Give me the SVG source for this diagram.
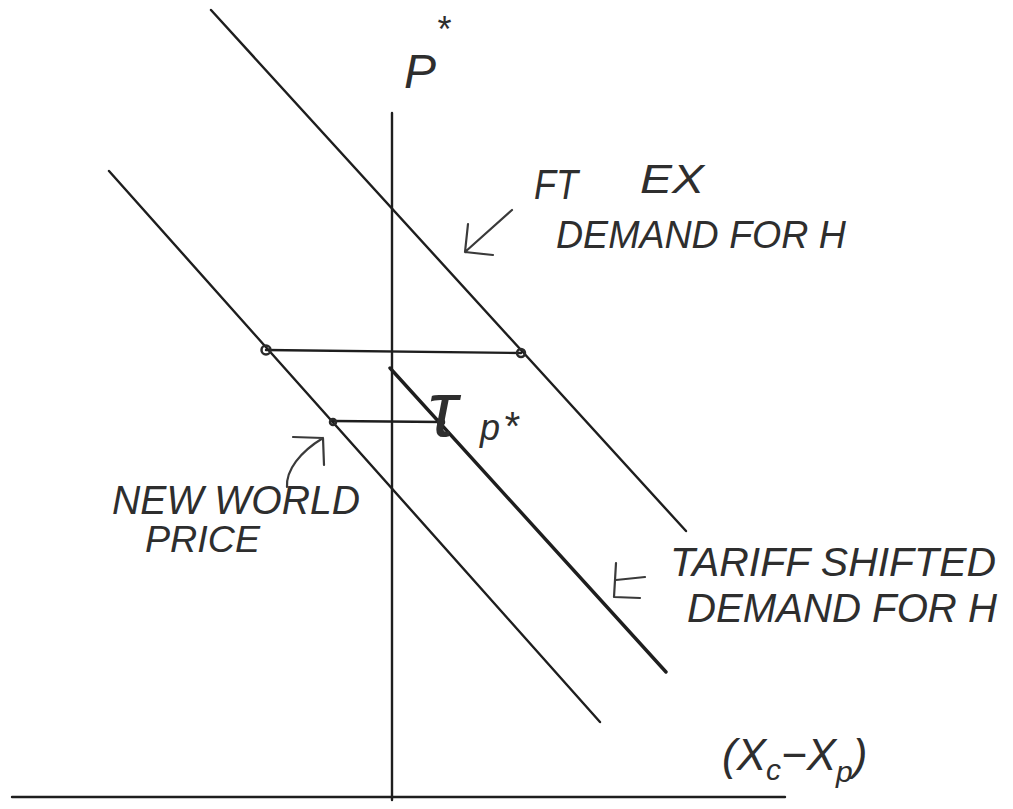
<svg xmlns="http://www.w3.org/2000/svg" width="1013" height="809" viewBox="0 0 1013 809">
<style>
.ln{stroke:#1e1e1e;stroke-width:2.4;fill:none;stroke-linecap:round}
.thick{stroke-width:3.4}
.pen{stroke:#3a3a3a;stroke-width:2.2;fill:none;stroke-linecap:round;stroke-linejoin:round}
.dot{fill:none;stroke:#2a2a2a;stroke-width:2.5}
.t{font-family:"Liberation Sans",Arial,sans-serif;font-style:italic;fill:#2e2e2e}
</style>
<rect width="1013" height="809" fill="#ffffff"/>
<g id="axes">
<line class="ln" x1="392" y1="113" x2="392" y2="800"/>
<line class="ln" x1="12" y1="797" x2="785" y2="797"/>
</g>
<g id="connectors">
<line id="ft-demand" class="ln" x1="211" y1="10" x2="686" y2="531"/>
<line id="world-line" class="ln" x1="109" y1="171" x2="600" y2="722"/>
<line id="tariff-demand" class="ln thick" x1="390" y1="368" x2="666" y2="672"/>
<line class="ln" x1="266" y1="350" x2="521" y2="353"/>
<line class="ln" x1="333" y1="421" x2="442" y2="422"/>
<circle class="dot" cx="266" cy="350" r="4.5"/>
<circle class="dot" cx="521" cy="353" r="4"/>
<circle class="dot" cx="333" cy="422" r="3"/>
<circle class="dot" cx="441" cy="422" r="3"/>
</g>
<g id="label-pstar">
<text class="t" x="404" y="88" font-size="48">P</text>
<text class="t" x="436" y="42" font-size="36">*</text>
</g>
<g id="label-ft">
<text class="t" x="534" y="199" font-size="42" textLength="44" lengthAdjust="spacingAndGlyphs">FT</text>
<text class="t" x="640" y="193" font-size="40" textLength="64" lengthAdjust="spacingAndGlyphs">EX</text>
<text class="t" x="556" y="248" font-size="38" textLength="290" lengthAdjust="spacingAndGlyphs">DEMAND FOR H</text>
<path class="pen" d="M512 210 L465 252 M468 224 L465 252 L493 255"/>
</g>
<g id="label-tau">
<text class="t" x="428" y="436" font-size="78">τ</text>
<text class="t" x="480" y="440" font-size="36">p</text>
<text class="t" x="503" y="440" font-size="40">*</text>
</g>
<g id="label-new-world">
<path class="pen" d="M287 487 C286 470 300 452 323 438 M293 437 L323 438 L324 465"/>
<text class="t" x="112" y="514" font-size="40" textLength="248" lengthAdjust="spacingAndGlyphs">NEW WORLD</text>
<text class="t" x="145" y="552" font-size="36" textLength="115" lengthAdjust="spacingAndGlyphs">PRICE</text>
</g>
<g id="label-tariff">
<path class="pen" d="M645 577 L616 580 M616 563 L614 597 L640 598"/>
<text class="t" x="670" y="576" font-size="40" textLength="326" lengthAdjust="spacingAndGlyphs">TARIFF SHIFTED</text>
<text class="t" x="687" y="622" font-size="40" textLength="310" lengthAdjust="spacingAndGlyphs">DEMAND FOR H</text>
</g>
<g id="label-x">
<text class="t" font-size="44" x="722" y="770">(X<tspan font-size="30" dy="10">c</tspan><tspan dy="-10">−X</tspan><tspan font-size="30" dy="12">p</tspan><tspan dy="-12">)</tspan></text>
</g>
</svg>
